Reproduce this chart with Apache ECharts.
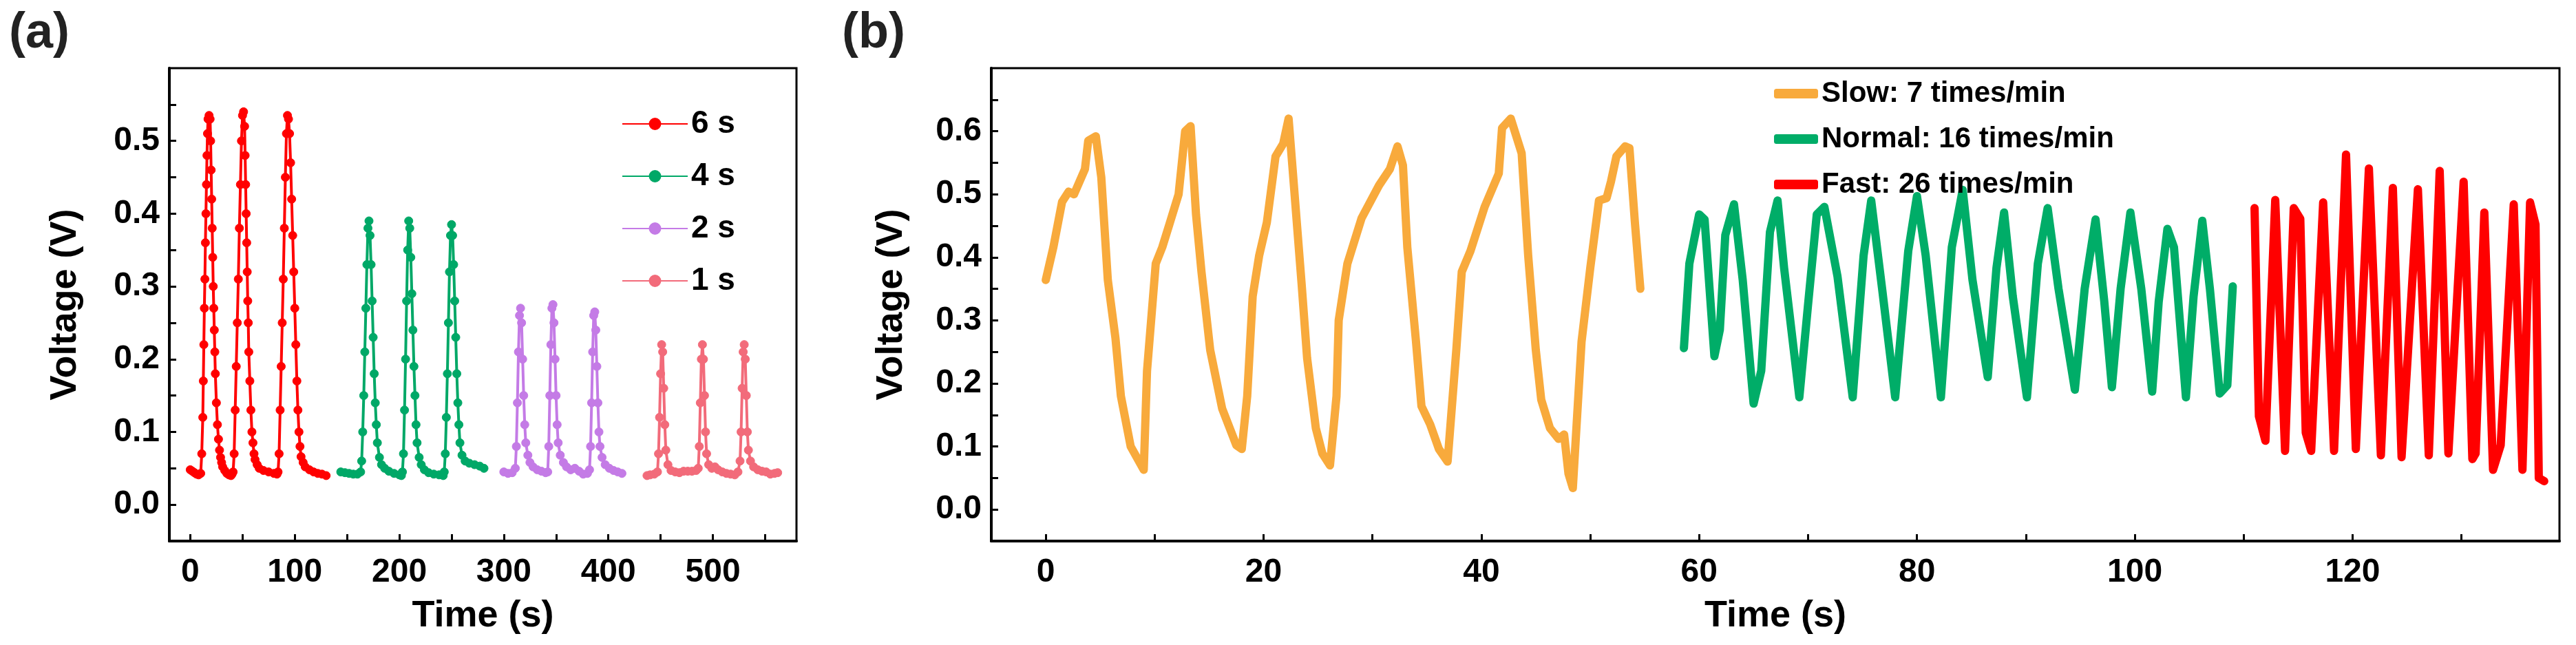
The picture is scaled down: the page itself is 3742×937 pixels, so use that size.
<!DOCTYPE html>
<html>
<head>
<meta charset="utf-8">
<script src="https://cdn.jsdelivr.net/npm/echarts@6/dist/echarts.min.js"></script>
<style>html,body{margin:0;padding:0;background:#fff}#chart{width:3742px;height:937px}</style>
</head>
<body>
<div id="chart"></div>
<script>
// panel (a): pulse response at different press durations
const s6 = [[0,0.048],[2,0.046],[4,0.044],[6,0.042],[8,0.041],[10,0.043],[11,0.07],[12,0.12],[12.5,0.17],[13,0.22],[13.5,0.27],[14,0.31],[14.5,0.36],[15,0.40],[15.5,0.44],[16,0.48],[16.5,0.51],[17,0.53],[18,0.535],[19,0.53],[19.5,0.50],[20,0.46],[20.5,0.42],[21,0.38],[21.5,0.34],[22,0.30],[22.5,0.27],[23,0.24],[23.5,0.21],[24,0.18],[25,0.14],[26,0.11],[27,0.09],[28,0.075],[29,0.065],[30,0.058],[31,0.052],[33,0.047],[35,0.043],[37,0.041],[39,0.040],[40,0.042],
  [41,0.045],[42,0.07],[43,0.13],[44,0.19],[45,0.25],[46,0.31],[47,0.38],[48,0.44],[49,0.50],[50,0.535],[51,0.54],[52,0.52],[52.5,0.48],[53,0.44],[53.5,0.40],[54,0.36],[54.5,0.32],[55,0.28],[55.5,0.25],[56,0.21],[57,0.17],[58,0.13],[59,0.10],[60,0.085],[61,0.07],[62,0.062],[64,0.055],[66,0.05],[70,0.047],[75,0.045],[80,0.043],[83,0.042],
  [84,0.045],[85,0.07],[86,0.13],[87,0.19],[88,0.25],[89,0.31],[90,0.38],[91,0.45],[92,0.51],[93,0.535],[94,0.53],[95,0.51],[96,0.47],[97,0.42],[98,0.37],[99,0.32],[100,0.27],[101,0.22],[102,0.17],[103,0.13],[104,0.10],[105,0.08],[106,0.066],[108,0.058],[110,0.052],[114,0.048],[118,0.045],[122,0.043],[126,0.042],[130,0.040]];
const s4 = [[144,0.045],[148,0.044],[152,0.043],[156,0.042],[160,0.042],[163,0.045],[164,0.06],[165,0.10],[166,0.15],[167,0.21],[168,0.27],[169,0.33],[170,0.38],[171,0.39],[172,0.37],[173,0.33],[174,0.28],[175,0.23],[176,0.18],[177,0.14],[178,0.11],[179,0.085],[181,0.065],[183,0.055],[186,0.05],[190,0.046],[195,0.043],[200,0.041],[202,0.040],
  [203,0.045],[204,0.07],[205,0.13],[206,0.20],[207,0.28],[208,0.35],[209,0.39],[210,0.38],[211,0.34],[212,0.29],[213,0.24],[214,0.19],[215,0.15],[216,0.11],[217,0.085],[219,0.065],[221,0.055],[224,0.048],[228,0.044],[233,0.042],[238,0.041],[242,0.040],
  [243,0.045],[244,0.07],[245,0.12],[246,0.18],[247,0.25],[248,0.32],[249,0.37],[250,0.385],[251,0.37],[252,0.33],[253,0.28],[254,0.23],[255,0.18],[256,0.14],[257,0.11],[258,0.085],[260,0.068],[263,0.06],[267,0.057],[272,0.055],[277,0.053],[281,0.05]];
const s2 = [[300,0.045],[304,0.043],[308,0.044],[311,0.05],[312,0.08],[313,0.14],[314,0.21],[315,0.26],[316,0.27],[317,0.25],[318,0.20],[319,0.15],[320,0.11],[321,0.085],[323,0.068],[325,0.058],[328,0.052],[332,0.048],[336,0.046],[340,0.044],
  [342,0.045],[343,0.08],[344,0.15],[345,0.22],[346,0.27],[347,0.275],[348,0.25],[349,0.20],[350,0.15],[351,0.11],[352,0.085],[354,0.068],[357,0.058],[360,0.052],[364,0.048],[368,0.05],[372,0.046],[376,0.042],[380,0.043],
  [382,0.048],[383,0.08],[384,0.14],[385,0.21],[386,0.26],[387,0.265],[388,0.24],[389,0.19],[390,0.14],[391,0.10],[392,0.08],[394,0.065],[397,0.055],[401,0.05],[405,0.047],[409,0.045],[413,0.043]];
const s1 = [[437,0.04],[440,0.041],[444,0.042],[447,0.045],[448,0.07],[449,0.12],[450,0.18],[451,0.22],[452,0.21],[453,0.16],[454,0.11],[455,0.075],[457,0.055],[460,0.047],[464,0.045],[468,0.044],[472,0.046],[476,0.046],[480,0.046],[484,0.047],
  [486,0.05],[487,0.08],[488,0.14],[489,0.20],[490,0.22],[491,0.20],[492,0.15],[493,0.10],[494,0.07],[496,0.055],[499,0.05],[502,0.052],[505,0.048],[509,0.045],[513,0.043],[517,0.042],[521,0.041],
  [524,0.045],[526,0.06],[527,0.10],[528,0.16],[529,0.21],[530,0.22],[531,0.20],[532,0.15],[533,0.10],[534,0.075],[536,0.06],[539,0.052],[543,0.048],[547,0.046],[551,0.045],[555,0.042],[559,0.043],[562,0.044]];

// panel (b): breathing at different rates
const slow = [[0,0.364],[0.7,0.416],[1.5,0.488],[2.1,0.504],[2.6,0.50],[3.6,0.54],[3.9,0.585],[4.6,0.592],[5.1,0.527],[5.7,0.364],[6.4,0.272],[6.9,0.18],[7.8,0.10],[9.0,0.063],[9.3,0.22],[10.1,0.39],[10.7,0.416],[11.4,0.455],[12.2,0.50],[12.8,0.60],[13.3,0.608],[13.8,0.468],[14.3,0.377],[15.1,0.253],[16.2,0.16],[17.5,0.102],[18.0,0.096],[18.5,0.18],[19.0,0.338],[19.6,0.403],[20.3,0.455],[21.1,0.56],[21.8,0.58],[22.3,0.62],[22.7,0.533],[23.5,0.357],[24.0,0.24],[24.8,0.129],[25.4,0.089],[26.1,0.07],[26.7,0.18],[26.9,0.30],[27.7,0.39],[29.0,0.462],[30.6,0.514],[31.6,0.54],[32.3,0.576],[32.8,0.546],[33.2,0.416],[34.0,0.266],[34.5,0.164],[35.3,0.135],[36.1,0.096],[36.9,0.076],[37.7,0.253],[38.2,0.377],[39.0,0.41],[40.3,0.48],[41.6,0.533],[41.9,0.605],[42.7,0.62],[43.7,0.565],[44.3,0.403],[45.0,0.253],[45.5,0.174],[46.3,0.129],[47.1,0.112],[47.6,0.119],[48.0,0.057],[48.4,0.034],[49.2,0.266],[50.0,0.383],[50.8,0.49],[51.5,0.494],[51.9,0.52],[52.4,0.56],[53.2,0.576],[53.6,0.573],[54.1,0.455],[54.6,0.35]];
const normal = [[58.6,0.256],[59.1,0.39],[60.0,0.468],[60.5,0.46],[61.4,0.243],[61.9,0.285],[62.4,0.435],[63.2,0.484],[64.0,0.364],[65.0,0.168],[65.7,0.22],[66.5,0.44],[67.2,0.49],[67.8,0.383],[69.2,0.178],[70.0,0.325],[70.8,0.468],[71.5,0.48],[72.7,0.37],[74.1,0.178],[75.1,0.403],[75.8,0.49],[76.8,0.35],[78.0,0.178],[79.2,0.41],[80.0,0.497],[80.8,0.403],[82.2,0.178],[83.2,0.416],[84.2,0.507],[85.1,0.364],[86.5,0.21],[87.3,0.383],[88.0,0.471],[88.8,0.338],[90.1,0.178],[91.1,0.39],[92.0,0.478],[93.0,0.35],[94.5,0.19],[95.4,0.35],[96.4,0.46],[97.2,0.33],[97.9,0.194],[98.7,0.35],[99.6,0.471],[100.6,0.35],[101.6,0.187],[102.2,0.33],[103.0,0.445],[103.6,0.416],[104.7,0.178],[105.4,0.338],[106.2,0.458],[106.9,0.35],[107.8,0.184],[108.5,0.197],[109.0,0.354]];
const fast = [[111.0,0.478],[111.4,0.148],[112.0,0.109],[112.9,0.491],[113.8,0.093],[114.6,0.478],[115.2,0.461],[115.7,0.122],[116.2,0.093],[117.3,0.487],[118.3,0.093],[119.4,0.563],[120.3,0.096],[121.5,0.541],[122.6,0.086],[123.7,0.51],[124.5,0.083],[126.0,0.508],[127.0,0.086],[128.0,0.537],[128.8,0.089],[130.2,0.52],[131.0,0.08],[131.3,0.089],[132.1,0.471],[132.9,0.063],[133.6,0.102],[134.8,0.484],[135.6,0.063],[136.3,0.487],[136.8,0.452],[137.1,0.05],[137.6,0.045]];

// ticks and labels
const aTicksX = [0,50,100,150,200,250,300,350,400,450,500,550];
const aLabelsX = [0,100,200,300,400,500];
const aTicksY = [0,0.05,0.1,0.15,0.2,0.25,0.3,0.35,0.4,0.45,0.5,0.55];
const aLabelsY = [0,0.1,0.2,0.3,0.4,0.5];
const bTicksX = [0,10,20,30,40,50,60,70,80,90,100,110,120,130];
const bLabelsX = [0,20,40,60,80,100,120];
const bTicksY = [0,0.05,0.1,0.15,0.2,0.25,0.3,0.35,0.4,0.45,0.5,0.55,0.6,0.65];
const bLabelsY = [0,0.1,0.2,0.3,0.4,0.5,0.6];

const FA = 'Liberation Sans, Arial, sans-serif';

function xAx(idx, min, max, ticks, labels) {
  return {
    type: 'value', gridIndex: idx, min, max,
    name: 'Time (s)', nameLocation: 'middle', nameGap: 82,
    nameTextStyle: {fontFamily: FA, fontWeight: 'bold', fontSize: 54, color: '#000'},
    axisLine: {show: true, onZero: false, lineStyle: {color: '#000', width: 4}},
    axisTick: {show: true, inside: true, length: 10, customValues: ticks, lineStyle: {color: '#000', width: 3}},
    axisLabel: {customValues: labels, margin: 22, fontFamily: FA, fontWeight: 'bold', fontSize: 48, color: '#000'},
    splitLine: {show: false}
  };
}
function yAx(idx, min, max, ticks, labels, gap) {
  return {
    type: 'value', gridIndex: idx, min, max,
    name: 'Voltage (V)', nameLocation: 'middle', nameGap: gap,
    nameTextStyle: {fontFamily: FA, fontWeight: 'bold', fontSize: 54, color: '#000'},
    axisLine: {show: true, onZero: false, lineStyle: {color: '#000', width: 4}},
    axisTick: {show: true, inside: true, length: 10, customValues: ticks, lineStyle: {color: '#000', width: 3}},
    axisLabel: {customValues: labels, margin: 14, fontFamily: FA, fontWeight: 'bold', fontSize: 48, color: '#000',
      formatter: v => v.toFixed(1)},
    splitLine: {show: false}
  };
}
function dotSeries(name, data, color) {
  return {name, type: 'line', xAxisIndex: 0, yAxisIndex: 0, data, color,
    symbol: 'circle', symbolSize: 12, showAllSymbol: true,
    lineStyle: {width: 4, color}, itemStyle: {color, borderColor: color, borderWidth: 1}};
}
function thickSeries(name, data, color) {
  return {name, type: 'line', xAxisIndex: 1, yAxisIndex: 1, data, color,
    symbol: 'none', lineStyle: {width: 12, color, join: 'round', cap: 'round'}};
}

const chart = echarts.init(document.getElementById('chart'));
chart.setOption({
  animation: false,
  backgroundColor: '#fff',
  title: [
    {text: '(a)', left: 8, top: 8, textStyle: {fontFamily: FA, fontWeight: 'bold', fontSize: 72, color: '#222'}},
    {text: '(b)', left: 1218, top: 8, textStyle: {fontFamily: FA, fontWeight: 'bold', fontSize: 72, color: '#222'}}
  ],
  grid: [
    {left: 246, top: 99, width: 911, height: 687, show: true, borderColor: '#000', borderWidth: 3, backgroundColor: 'transparent'},
    {left: 1440, top: 99, width: 2278, height: 687, show: true, borderColor: '#000', borderWidth: 3, backgroundColor: 'transparent'}
  ],
  legend: [
    {data: ['6 s', '4 s', '2 s', '1 s'], orient: 'vertical', left: 898, top: 152, itemWidth: 95, itemHeight: 20, itemGap: 30,
      textStyle: {fontFamily: FA, fontWeight: 'bold', fontSize: 46, color: '#000'}},
    {data: ['Slow: 7 times/min', 'Normal: 16 times/min', 'Fast: 26 times/min'], orient: 'vertical', left: 2572, top: 110,
      itemWidth: 64, itemHeight: 14, itemGap: 24, icon: 'roundRect',
      textStyle: {fontFamily: FA, fontWeight: 'bold', fontSize: 42, color: '#000'}}
  ],
  xAxis: [xAx(0, -20, 580, aTicksX, aLabelsX), xAx(1, -5, 139, bTicksX, bLabelsX)],
  yAxis: [yAx(0, -0.05, 0.6, aTicksY, aLabelsY, 124), yAx(1, -0.05, 0.7, bTicksY, bLabelsY, 118)],
  series: [
    dotSeries('6 s', s6, '#ff0000'),
    dotSeries('4 s', s4, '#00a867'),
    dotSeries('2 s', s2, '#c47be6'),
    dotSeries('1 s', s1, '#f26b7a'),
    thickSeries('Slow: 7 times/min', slow, '#f8aa3c'),
    thickSeries('Normal: 16 times/min', normal, '#00ad68'),
    thickSeries('Fast: 26 times/min', fast, '#ff0000')
  ]
});
</script>
</body>
</html>
